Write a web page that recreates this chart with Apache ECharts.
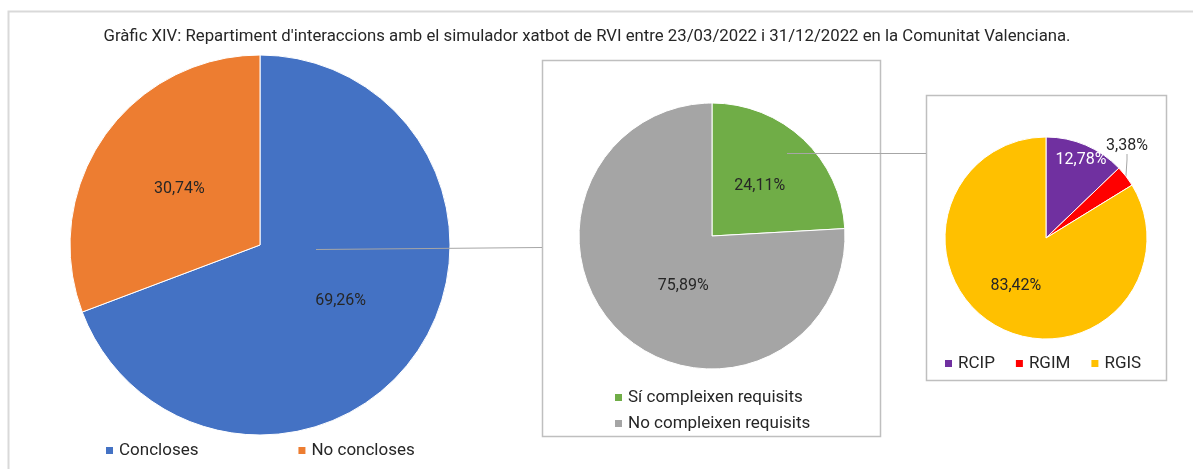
<!DOCTYPE html>
<html><head><meta charset="utf-8">
<script src="https://cdn.jsdelivr.net/npm/echarts@6/dist/echarts.min.js"></script>
<style>html,body{margin:0;padding:0;background:#fff}#c{width:1193px;height:469px}</style>
</head><body><div id="c"></div>
<script>
const titleText = "Gràfic XIV: Repartiment d'interaccions amb el simulador xatbot de RVI entre 23/03/2022 i 31/12/2022 en la Comunitat Valenciana.";
const mainCats = ['Concloses', 'No concloses'];
const mainVals = [69.26, 30.74];
const reqCats = ['Sí compleixen requisits', 'No compleixen requisits'];
const reqVals = [24.11, 75.89];
const regCats = ['RCIP', 'RGIM', 'RGIS'];
const regVals = [12.78, 3.38, 83.42];

const FONT = 'Roboto';
const TXT = '#262626';
const fmt = p => p.value.toFixed(2).replace('.', ',') + '%';

function mk(cats, vals, colors, extra) {
  return cats.map((c, i) => Object.assign({ name: c, value: vals[i], itemStyle: { color: colors[i] } }, (extra && extra[i]) || {}));
}

const chart = echarts.init(document.getElementById('c'), null, { renderer: 'canvas' });
const pieBase = {
  type: 'pie', startAngle: 90, clockwise: true, animation: false,
  itemStyle: { borderColor: '#fff', borderWidth: 1 },
  label: { show: true, position: 'inside', formatter: fmt, color: TXT, fontFamily: FONT, fontSize: 16, overflow: 'none' },
  emphasis: { disabled: true }
};
chart.setOption({
  animation: false,
  title: { text: titleText, left: 582, textAlign: 'center', top: 23, textStyle: { fontFamily: FONT, fontSize: 16.75, fontWeight: 'normal', color: TXT } },
  legend: [
    { data: mainCats, left: 99, top: 437, itemWidth: 9, itemHeight: 9, itemGap: 98, icon: 'rect',
      textStyle: { fontFamily: FONT, fontSize: 17, color: TXT } },
    { data: reqCats, orient: 'vertical', left: 608, top: 384, itemWidth: 9, itemHeight: 9, itemGap: 9, icon: 'rect',
      textStyle: { fontFamily: FONT, fontSize: 17, color: TXT } },
    { data: regCats, left: 938, top: 350, itemWidth: 9, itemHeight: 9, itemGap: 19, icon: 'rect',
      textStyle: { fontFamily: FONT, fontSize: 17, color: TXT } }
  ],
  graphic: [
    { type: 'polyline', shape: { points: [[8.5, 469], [8.5, 11.5], [1193, 11.5]] }, style: { stroke: '#d9d9d9', lineWidth: 2, fill: null }, z: 0 },
    { type: 'rect', shape: { x: 542.5, y: 60.5, width: 338, height: 376 }, style: { stroke: '#bfbfbf', lineWidth: 1.5, fill: null }, z: 0 },
    { type: 'rect', shape: { x: 926.5, y: 95.5, width: 240, height: 285 }, style: { stroke: '#bfbfbf', lineWidth: 1.5, fill: null }, z: 0 },
    { type: 'line', shape: { x1: 316, y1: 249.5, x2: 542, y2: 247.5 }, style: { stroke: '#a6a6a6', lineWidth: 1 }, z: 100 },
    { type: 'line', shape: { x1: 787, y1: 153.5, x2: 926, y2: 153.5 }, style: { stroke: '#a6a6a6', lineWidth: 1 }, z: 100 }
  ],
  series: [
    Object.assign({}, pieBase, { name: 'main', center: [260, 245], radius: 190, labelLine: { show: false },
      data: mk(mainCats, mainVals, ['#4472C4', '#ED7D31']) }),
    Object.assign({}, pieBase, { name: 'req', center: [712, 236], radius: 133, labelLine: { show: false },
      data: mk(reqCats, reqVals, ['#70AD47', '#A5A5A5'], [null, { label: { offset: [19, 0] } }]) }),
    Object.assign({}, pieBase, { name: 'reg', center: [1046, 238], radius: 101,
      labelLine: { show: true, length: 10, length2: 6, smooth: false, lineStyle: { color: '#a6a6a6', width: 1 } },
      data: mk(regCats, regVals, ['#7030A0', '#FF0000', '#FFC000'], [
        { label: { color: '#fff', offset: [14, -29] } },
        { label: { position: 'outside', distance: 2, overflow: 'none', width: 60 } },
        { label: { offset: [-4, 1] } }
      ]),
      labelLayout: function (p) {
        if (p.dataIndex === 1) return { x: 1127, y: 146, align: 'center', verticalAlign: 'middle' };
        return {};
      }
    })
  ]
});
</script></body></html>
